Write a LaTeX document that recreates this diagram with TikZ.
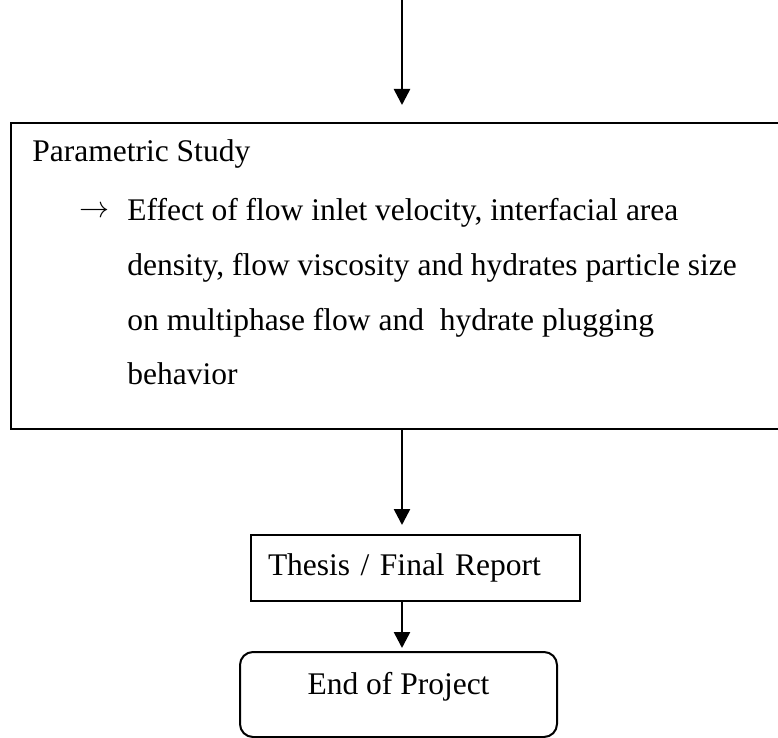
\documentclass[tikz,border=0pt]{standalone}
\usepackage{fontspec}
\setmainfont{Liberation Serif}
\usetikzlibrary{arrows.meta}
\tikzset{
  px/.style={x=0.5pt,y=-0.5pt},
  txt/.style={font=\fontsize{15.75pt}{18pt}\selectfont, text=black},
  line/.style={txt, anchor=base west, inner sep=0pt},
  boxline/.style={draw=black, line width=1pt},
  arr/.style={draw=black, line width=1.3pt, -{Triangle[width=8pt,length=8pt]}},
}
\begin{document}
\begin{tikzpicture}[px]
\useasboundingbox (0,0) rectangle (778,738);
\clip (0,0) rectangle (778,738);
\fill[white] (0,0) rectangle (778,738);
% big box (extends past the right edge)
\node[boxline, minimum width=391pt, minimum height=153pt, inner sep=0pt] (ps) at (402,276) {};
\node[line] (title) at (32,162) {Parametric Study};
\node[txt, inner sep=0pt] (bul) at (95,212) {\resizebox{15pt}{!}{$\rightarrow$}};
\node[line] (l1) at (127,221) {Effect of flow inlet velocity, interfacial area};
\node[line] (l2) at (127,275.7) {density, flow viscosity and hydrates particle size};
\node[line] (l3) at (127,330.3) {on multiphase flow and\ \ hydrate plugging};
\node[line] (l4) at (127,385) {behavior};
% thesis box
\node[boxline, txt, anchor=west, inner xsep=8.5pt, inner ysep=0pt, text width=147.5pt, align=left,
      text height=20.35pt, text depth=12.65pt] (th) at (250,568) {Thesis / Final Report};
% end box
\node[boxline, txt, rounded corners=6.5pt, minimum width=158.5pt, inner ysep=0pt,
      text height=21.25pt, text depth=21.25pt] (en) at (398.5,694.5) {End of Project};
% connectors
\coordinate (start) at (402,0);
\draw[arr, shorten >=8.5pt] (start) -- (ps.north);
\draw[arr, shorten >=4.5pt] (ps.south) -- (ps.south |- th.north);
\draw[arr, shorten >=1.5pt] (ps.south |- th.south) -- (ps.south |- en.north);
\end{tikzpicture}
\end{document}
